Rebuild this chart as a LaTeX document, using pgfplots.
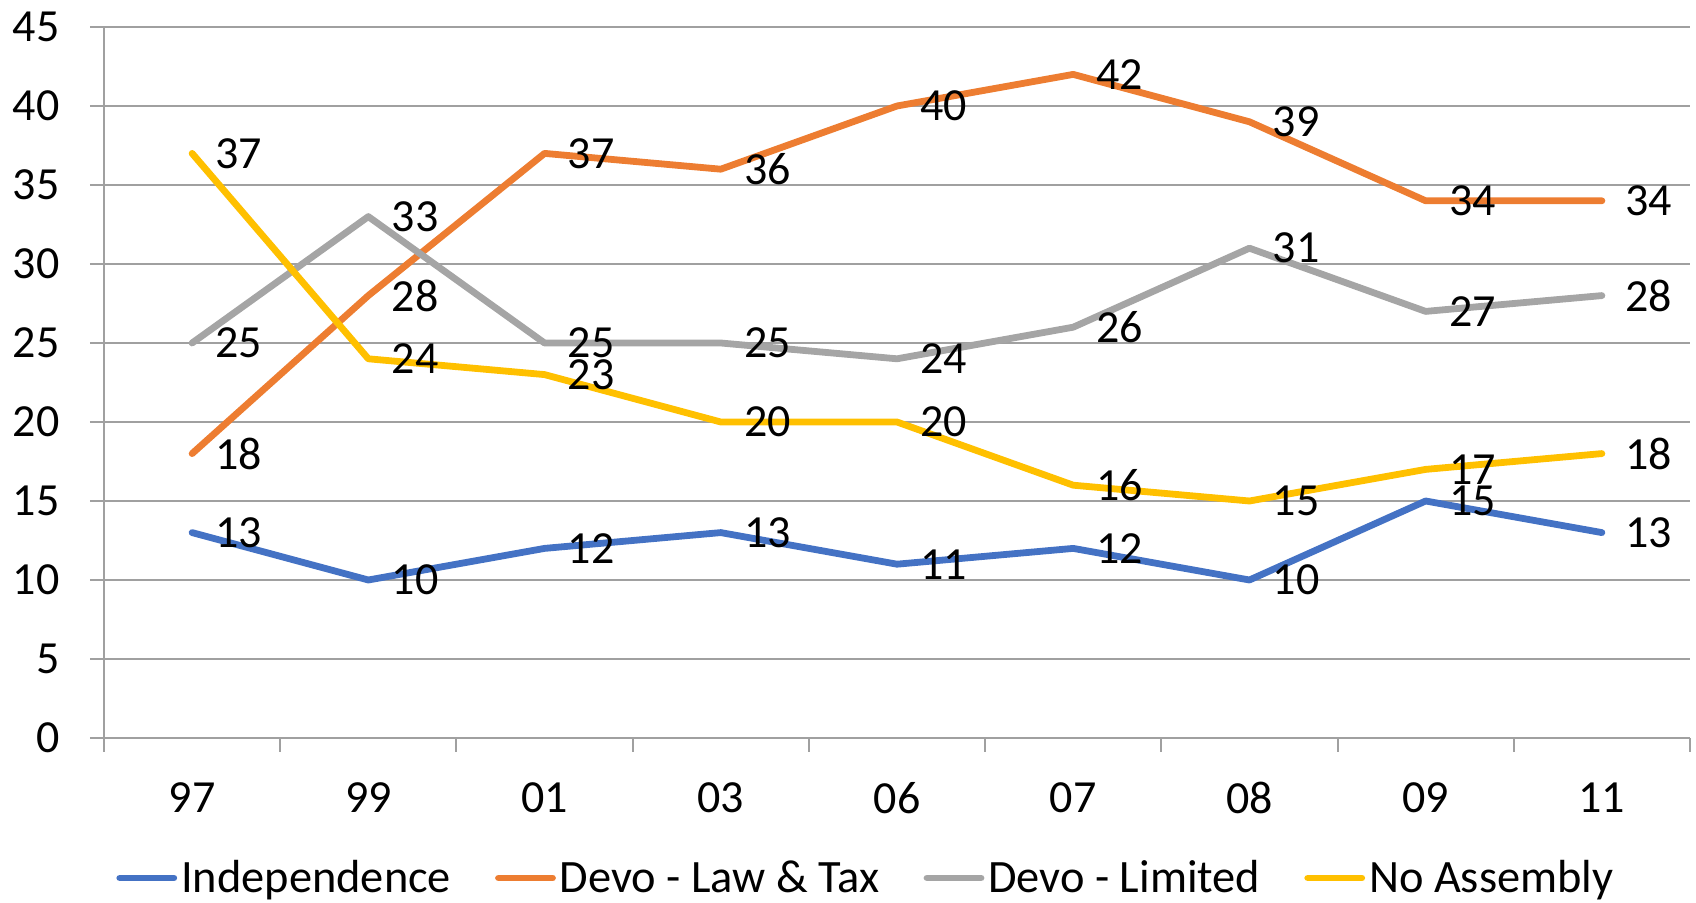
\documentclass[border=0pt]{standalone}
\usepackage{fontspec}
\setmainfont{Carlito}
\usepackage{pgfplots}
\pgfplotsset{compat=1.18}
\definecolor{cBlue}{HTML}{4472C4}
\definecolor{cOrange}{HTML}{ED7D31}
\definecolor{cGray}{HTML}{A5A5A5}
\definecolor{cGold}{HTML}{FFC000}
\definecolor{cGrid}{HTML}{A0A0A0}
\begin{document}
\begin{tikzpicture}
\begin{axis}[
  scale only axis,
  width=793pt, height=355.5pt,
  xmin=-0.5, xmax=8.5, ymin=0, ymax=45,
  axis x line*=bottom, axis y line*=left,
  axis line style={cGrid, line width=1pt, -},
  xtick={-0.5,0.5,...,8.5},
  x tick label as interval,
  xticklabels={97,99,01,03,06,07,08,09,11},
  ytick={0,5,...,45},
  ymajorgrids,
  grid style={cGrid, line width=1pt},
  tick align=outside,
  major tick length=7pt,
  tick style={cGrid, line width=1pt},
  /pgf/number format/assume math mode=true,
  tick label style={font=\fontsize{23}{27}\selectfont, text=black},
  yticklabel style={anchor=east, inner sep=0pt, xshift=-15pt},
  xticklabel style={anchor=center, inner sep=0pt, yshift=-23pt},
  every axis plot/.append style={line width=3.4pt, line join=round, line cap=round, mark=none},
  nodes near coords,
  nodes near coords style={anchor=west, inner sep=0pt, xshift=10pt, font=\fontsize{23}{27}\selectfont, text=black},
  legend columns=4,
  legend style={at={(rel axis cs:0,0)}, anchor=west, xshift=6pt, yshift=-70pt,
    draw=none, fill=none, inner sep=0pt,
    font=\fontsize{23.2}{27}\selectfont,
    nodes={inner sep=0pt},
    /tikz/every odd column/.append style={column sep=2pt},
    /tikz/every even column/.append style={column sep=22pt}},
  legend image code/.code={\draw[#1, line cap=round] (0pt,0pt) -- (27pt,0pt);},
]
\addplot[cBlue] coordinates {(0,13) (1,10) (2,12) (3,13) (4,11) (5,12) (6,10) (7,15) (8,13)};
\addlegendentry{Independence}
\addplot[cOrange] coordinates {(0,18) (1,28) (2,37) (3,36) (4,40) (5,42) (6,39) (7,34) (8,34)};
\addlegendentry{Devo - Law \& Tax}
\addplot[cGray] coordinates {(0,25) (1,33) (2,25) (3,25) (4,24) (5,26) (6,31) (7,27) (8,28)};
\addlegendentry{Devo - Limited}
\addplot[cGold] coordinates {(0,37) (1,24) (2,23) (3,20) (4,20) (5,16) (6,15) (7,17) (8,18)};
\addlegendentry{No Assembly}
\coordinate (ll) at (rel axis cs:0,0);
\coordinate (ur) at (rel axis cs:1,1);
\end{axis}
\pgfresetboundingbox
\path[use as bounding box] ([shift={(-52pt,-82.5pt)}]ll) rectangle ([shift={(3pt,13.5pt)}]ur);
\end{tikzpicture}
\end{document}
